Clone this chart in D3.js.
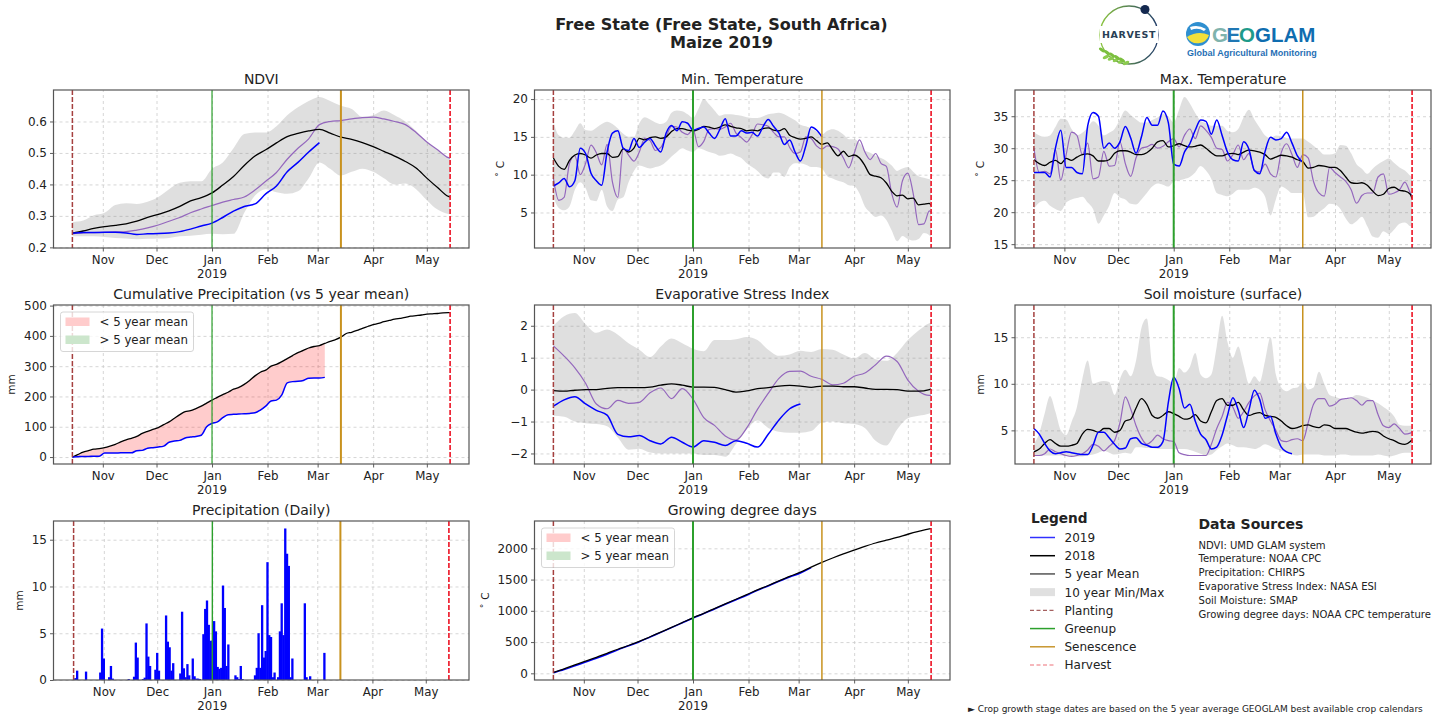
<!DOCTYPE html>
<meta charset="utf-8">
<style>
  body { margin: 0; background: #fff; }
  text { font-family: "DejaVu Sans", sans-serif; fill: #222; }
  .grid line { stroke: #ccc; stroke-width: 0.8; stroke-dasharray: 3 3; }
  .grid path { display: none; }
  .axis path { display: none; }
  .axis line { stroke: #333; stroke-width: 0.8; }
  .axis text { fill: #222; }
</style>

<body>
  <script src="https://d3js.org/d3.v7.min.js"></script>
  <script>

    // crop calendar (days counted from planting)
    var planting = new Date(2018, 9, 15);
    var greenupDay = 78, senescenceDay = 150, harvestDay = 211;
    var monthTicks = [new Date(2018, 10, 1), new Date(2018, 11, 1), new Date(2019, 0, 1), new Date(2019, 1, 1),
      new Date(2019, 2, 1), new Date(2019, 3, 1), new Date(2019, 4, 1)];

    // sample days of the series below
    var days3 = d3.range(0, 211, 3).concat(211);
    var days6 = d3.range(0, 211, 6).concat(211);

    // NDVI (every 6 days)
    var ndviBlue = [.245, .247, .247, .248, .248, .246, .241, .243, .244, .246, .25, .258, .268, .277, .295, .315, .33, .338, .37, .395, .44, .47, .503, .533];
    var ndviPurple = [.243, .246, .247, .248, .249, .25, .255, .262, .271, .283, .295, .31, .322, .333, .344, .352, .36, .382, .41, .438, .48, .515, .545, .59, .6, .603, .608, .612, .614, .608, .6, .59, .565, .535, .51, .485, .483];
    var ndviBlack = [.245, .252, .26, .266, .27, .275, .283, .295, .305, .316, .33, .348, .358, .373, .398, .425, .46, .49, .51, .532, .552, .562, .57, .575, .563, .55, .543, .533, .52, .505, .49, .473, .452, .42, .39, .362, .36];
    var ndviHi = [.28, .285, .302, .31, .335, .34, .338, .345, .36, .385, .405, .41, .41, .45, .47, .515, .56, .565, .565, .585, .62, .645, .665, .678, .665, .65, .64, .615, .62, .635, .62, .6, .57, .535, .51, .486, .483];
    var ndviLo = [.235, .235, .235, .233, .23, .228, .226, .227, .228, .23, .235, .237, .24, .243, .242, .243, .31, .365, .385, .375, .37, .378, .42, .47, .45, .428, .44, .45, .44, .42, .4, .403, .385, .35, .32, .306, .305];

    // Min. temperature (every 3 days)
    var minBlue = [8.5, 8.9, 9.5, 8.4, 9.2, 13.5, 12.8, 10.2, 9.2, 8.6, 13, 15.5, 15.8, 13.5, 13.2, 14.8, 13.6, 14.3, 14.8, 13.8, 13, 15.5, 16.5, 15.8, 17, 16.8, 15.9, 16.1, 16.3, 15.5, 14.8, 16, 17.4, 15.1, 15.1, 15.8, 15.5, 15.6, 15.1, 16.3, 17.3, 16.4, 15.5, 14, 14.6, 13, 11.8, 13.8, 16.3, 15.9, 15];
    var minPurple = [9.5, 6.6, 7, 11.5, 12.5, 10, 11.5, 13.9, 12.9, 11.3, 14, 9, 7, 13.5, 12.6, 11.8, 13, 14.8, 14.5, 13.2, 13.6, 15, 16.4, 16.3, 15.6, 15.3, 16, 13.7, 14.4, 16, 16.1, 16, 16.3, 16.8, 15.5, 14.9, 14.3, 15.3, 16.7, 16.6, 16.4, 15.6, 15, 15, 13.6, 12.8, 13, 15, 14.8, 13.8, 13.4, 13.8, 13.7, 13.4, 12.2, 10.9, 12.8, 14.6, 13, 12, 12.8, 11.5, 11.1, 7.5, 5.7, 9.2, 10.2, 7.5, 3.4, 3.5, 5.2, 5];
    var minBlack = [12.2, 11.1, 10.7, 11.9, 12.6, 12.8, 12.6, 12.2, 12.6, 12.8, 12.8, 12.3, 12.4, 13.4, 13, 13.5, 14.8, 14.6, 14.9, 15, 14.8, 15, 15.7, 16.1, 16.1, 15.9, 15.8, 16, 16.4, 16.3, 16.1, 16.3, 16.6, 16.4, 16.2, 16.1, 15.8, 15.9, 15.8, 16.1, 16.2, 15.9, 15.8, 16.1, 15.2, 14.9, 14.7, 14.8, 15, 14.5, 14, 14.2, 13.3, 12.5, 13.1, 12.4, 12.6, 12.2, 11.2, 10, 9.8, 9.6, 8.9, 7.8, 7.2, 7.3, 6.8, 6.9, 6, 6.1, 6.2, 5.9];
    var minHi = [17, 15.2, 14.9, 14.9, 15.8, 16.8, 15.9, 15.8, 16.2, 16.7, 17, 16.7, 16.1, 15.4, 15, 15, 16.8, 17.6, 17.3, 16.9, 16.7, 17, 18.2, 18.5, 18.4, 18, 17.5, 18.7, 20, 19.3, 18.5, 17.8, 18, 18, 17.9, 17.8, 17.6, 17.5, 17.5, 17.7, 18, 18.1, 18.2, 18, 17.6, 17.2, 16.6, 16.4, 16.1, 15.7, 15.3, 15.8, 16, 15.8, 15.3, 14.7, 14.7, 14.2, 13.2, 12.9, 12.5, 12.2, 11.8, 11.2, 10.5, 10.8, 11, 10.4, 9.8, 9.6, 9.4, 9.3];
    var minLo = [7, 5.6, 5.3, 5.8, 8, 9, 8.2, 6.6, 6.5, 8, 5.8, 5.2, 6.7, 7, 9, 10.5, 11.2, 11, 10.8, 11, 11.2, 11.7, 12.4, 13, 13.5, 13.2, 13, 13.5, 13.3, 13, 12.8, 12.5, 12.6, 12.8, 12.5, 12.2, 11.5, 11, 10.5, 9.8, 9.5, 10.3, 10.3, 9.7, 11, 11.5, 11.5, 11.3, 11, 11, 10.8, 9.8, 9.5, 9.2, 9, 8.6, 8.5, 7.5, 5.8, 5, 4.4, 4.6, 4, 2.6, 1.2, 1.9, 1.5, 1.3, 1.5, 2.3, 2, 1.7];

    // Max. temperature (every 3 days)
    var maxBlue = [26.2, 26.2, 26.2, 25.5, 30, 32.8, 27, 27, 26.2, 26, 33.5, 35.6, 35, 30, 30.8, 30, 31, 33.4, 31.6, 29.2, 31.8, 34.8, 33.6, 33.6, 35.8, 34, 27.5, 27.2, 29.4, 30.7, 32.8, 34.4, 34.2, 32.2, 34.4, 32, 29.4, 28.2, 28, 31, 29.8, 26.5, 26, 29.5, 31.7, 31.3, 31.5, 32.5, 30.8, 28.8, 27.8];
    var maxPurple = [30, 26.2, 26.4, 26, 29.8, 25, 29, 32.5, 32, 29, 30.8, 25.2, 25.5, 29.5, 27.2, 27.3, 31, 27.6, 25.6, 28.5, 30, 30.2, 30.6, 30, 30.3, 31, 31.5, 30.2, 32, 33, 31.5, 33.5, 32.8, 31.7, 30, 29.8, 28, 29, 30.5, 28.2, 29.2, 26.5, 26.3, 27.5, 26, 25.5, 29.3, 30.7, 29, 27, 29, 28.5, 24.8, 23, 22.5, 27, 26.2, 25.5, 24.8, 23.5, 21.4, 22.6, 23, 23, 25.5, 26, 22.8, 23, 23.5, 24.7, 23, 22.5];
    var maxBlack = [28.2, 27.6, 27.3, 27.8, 28.1, 27.6, 28.4, 28.1, 28.6, 29, 29.1, 28.8, 28, 28, 28.2, 29.2, 29.6, 29.6, 29.4, 29, 29, 29.3, 30, 31, 31.2, 30.2, 30.4, 30.7, 30.4, 30.2, 30.3, 30.5, 30, 29.3, 28.8, 28.8, 29.1, 29.2, 29, 29.4, 29.7, 29.6, 29.4, 29, 28.3, 28.6, 28.9, 28.8, 28.6, 28.2, 27.9, 26.9, 27, 27.3, 27.2, 27, 27, 26.5, 25.5, 24.6, 24.5, 24.6, 24.2, 23.3, 22.6, 22.8, 23.7, 23.9, 23.4, 23.3, 22.8, 22.1];
    var maxHi = [32.5, 32, 31.8, 32, 33.3, 34.6, 34.5, 33, 32, 32.4, 33.2, 34.2, 33.5, 32, 32.4, 33, 34.5, 35.9, 35.2, 34.5, 34, 34, 34.4, 34.8, 35.4, 35, 34, 36, 38, 37, 35.5, 34.3, 33.9, 33.5, 33.5, 33.5, 32.7, 32.5, 33, 34.8, 36, 34.5, 33.2, 32, 31.6, 32, 31.9, 31.6, 31.5, 31.5, 31.5, 31, 30.4, 29.7, 29, 29, 29.2, 30.5, 30.4, 29.2, 27.5, 26.8, 26, 26.8, 27.5, 28, 28.4, 27.7, 27, 26.5, 25.7, 25.5];
    var maxLo = [20.5, 21.5, 21.8, 21, 20.5, 20.2, 21.5, 22, 22.2, 22.4, 21.5, 20.5, 18.2, 19.5, 21, 23, 22.3, 22, 21.3, 21.2, 22, 23, 24, 24.5, 24.3, 24, 24.8, 25, 25.2, 25.5, 26.2, 27.2, 26.5, 25.2, 23, 22.7, 22.5, 22.9, 23.5, 23.5, 23.5, 23.8, 23.5, 22.4, 19.5, 22, 24, 23.6, 23, 23, 23, 19.2, 19.3, 20, 20.6, 21.3, 21.2, 20.5, 19, 18.1, 18.6, 19.3, 17.8, 16.2, 16, 17, 16.6, 17.3, 18.2, 18.4, 17.8, 17.7];

    // Cumulative precipitation (every 3 days)
    var cumBlue = [0, 1, 2, 2, 3, 3, 13, 13, 13, 14, 14, 14, 21, 22, 29, 31, 33, 36, 49, 53, 55, 63, 66, 68, 72, 100, 111, 116, 130, 140, 141, 142, 143, 144, 146, 155, 168, 185, 188, 205, 245, 249, 250, 253, 260, 261, 261, 263];
    var cumBlack = [0, 8, 16, 21, 26, 28, 31, 36, 42, 50, 57, 62, 68, 78, 85, 91, 97, 107, 116, 128, 140, 150, 153, 160, 168, 178, 188, 197, 206, 214, 224, 230, 240, 253, 268, 280, 287, 300, 306, 315, 325, 335, 345, 352, 360, 365, 368, 375, 382, 388, 396, 408, 412, 418, 425, 431, 437, 441, 447, 451, 455, 458, 461, 465, 467, 469, 472, 473, 474, 476, 477, 477];

    // Evaporative stress index (every 6 days)
    var esiBlue = [-.52, -.32, -.22, -.45, -.65, -.8, -1.4, -1.48, -1.44, -1.6, -1.7, -1.49, -1.65, -1.8, -1.6, -1.65, -1.75, -1.6, -1.68, -1.8, -1.4, -.95, -.6, -.45];
    var esiPurple = [1.37, 1.05, .68, .2, -.45, -.6, -.34, -.43, -.4, -.1, .05, -.28, .03, -.3, -.88, -1.12, -1.45, -1.58, -1.2, -.62, -.12, .35, .57, .58, .42, .32, .15, .2, .42, .52, .78, 1.05, .88, .3, -.05, -.18, -.18];
    var esiBlack = [-.03, -.05, -.02, 0, 0, .04, .06, .06, .06, .08, .14, .18, .14, .08, .08, .07, 0, -.08, -.04, .03, .06, .11, .13, .11, .07, .11, .11, .09, .09, .05, .01, .01, 0, -.05, -.05, 0, .02];
    var esiHi = [2, 2.3, 2.4, 2.05, 1.78, 1.88, 1.72, 1.45, 1.25, 1.02, 1.35, 1.6, 1.45, 1.28, 1.2, 1.55, 1.55, 1.58, 1.65, 1.55, 1.25, 1.06, 1.1, 1.22, 1.18, 1.27, 1.25, 1.1, .98, 1.15, .95, .9, 1.15, 1.55, 1.85, 2.08, 2.1];
    var esiLo = [-.82, -.85, -1, -1.05, -1.08, -1.15, -1.5, -1.88, -1.85, -1.97, -2, -2, -2, -2, -2.05, -2.05, -2.1, -1.7, -1.25, -.97, -1.2, -1.32, -1.35, -1.35, -1.3, -1.03, -1, -1.05, -1.08, -1.2, -1.6, -1.75, -1.25, -.9, -.82, -.75, -.72];

    // Soil moisture (every 3 days)
    var soilBlue = [5.2, 4.6, 3.6, 2.8, 2.5, 2.6, 2.7, 2.6, 2.5, 2.4, 2.4, 3.4, 4.8, 4.8, 4.2, 3.5, 3, 3.1, 4.1, 4.2, 3.6, 3.4, 3.2, 3.2, 3.8, 8, 10.7, 9.5, 7.4, 7.8, 6, 4.6, 4, 3, 3.2, 4.5, 6.6, 8.5, 7.2, 5.3, 7.2, 9.3, 8.3, 6.3, 6.5, 4.6, 3.2, 2.7, 2.5];
    var soilPurple = [2.3, 2.3, 2.5, 3, 2.7, 2.5, 2.3, 2.2, 2.3, 2.5, 2.9, 3.5, 3.3, 2.8, 3.3, 3.9, 5.8, 8.6, 7.3, 5.5, 4.2, 3.5, 3.9, 4.5, 4.1, 3.9, 3.8, 2.6, 2.4, 2.3, 2.3, 2.3, 2.3, 3.5, 5.2, 6.5, 8, 7.5, 6.3, 7, 8, 8.7, 9, 7.2, 6, 5, 3.9, 3.8, 4, 4.1, 3.9, 5.8, 7.8, 8.4, 8.4, 7.6, 7.8, 8.3, 8.4, 8.5, 8.2, 7.7, 8.2, 8.2, 6.7, 5.5, 5.3, 5.7, 5.2, 4.6, 4.7, 4.9];
    var soilBlack = [2.7, 3, 3.6, 4, 3.6, 3.3, 3.3, 3.4, 3.6, 4.6, 5.1, 5, 4.8, 5.2, 5.2, 4.8, 5, 6, 6.2, 7.4, 8.4, 7.8, 6.6, 6.3, 6.6, 7, 6.8, 6.5, 6.2, 6.3, 6.7, 6, 5.8, 7, 8.2, 8.4, 7.7, 7.7, 8, 7.2, 6.6, 6.8, 6.9, 6.6, 6.5, 6.4, 6, 5.5, 5.2, 5.3, 5.5, 5.6, 5.4, 5.3, 5.6, 5.5, 5.2, 5.2, 5.2, 5, 4.8, 4.7, 4.8, 4.9, 4.8, 4.4, 4.1, 3.9, 3.6, 3.5, 3.8, 4];
    var soilHi = [3.5, 4.7, 6.8, 8.7, 7, 5, 4.5, 5.9, 7.5, 10.5, 12.5, 10, 10.2, 10.3, 10.2, 8.8, 10.5, 11.5, 10.8, 12.5, 16, 17, 12, 10.8, 10.7, 10.4, 10, 11.7, 11.2, 11.8, 13.3, 11, 10.6, 11, 14, 17.3, 14.5, 12.8, 14, 12, 10, 10.8, 10.2, 12.5, 15, 11, 9.6, 9.2, 9.5, 9.6, 10.2, 9.4, 9.6, 11.3, 10, 8.8, 8.6, 8.4, 8.3, 8.5, 8.8, 8.7, 8.5, 8.2, 7.9, 7.5, 7.1, 6.5, 5.6, 5.5, 5.5, 5.5];
    var soilLo = [2.3, 2.3, 2.3, 2.3, 2.3, 2.3, 2.25, 2.2, 2.2, 2.2, 2.3, 2.4, 2.6, 2.8, 2.6, 2.4, 2.5, 2.6, 2.5, 3.2, 3.2, 3.1, 3.1, 3, 3, 3, 3, 3, 3, 2.9, 2.7, 2.5, 2.3, 2.4, 2.9, 3.3, 3.6, 3.4, 3.2, 3.2, 3.1, 3, 3.2, 3.5, 3.3, 3, 2.8, 2.6, 2.4, 2.3, 2.4, 2.4, 2.4, 2.4, 2.3, 2.3, 2.3, 2.4, 2.4, 2.3, 2.3, 2.3, 2.3, 2.3, 2.4, 2.3, 2.2, 2.3, 2.5, 2.6, 2.6, 2.6];

    // Daily precipitation
    var rainDays = [1, 2, 7, 15, 16, 17, 20, 21, 22, 31, 34, 35, 36, 39, 40, 41, 42, 43, 46, 47, 48, 52, 53, 54, 55, 56, 60, 61, 62, 63, 64, 65, 67, 68, 69, 70, 71, 73, 74, 75, 76, 77, 78, 79, 80, 81, 82, 83, 84, 85, 86, 87, 91, 92, 93, 94, 95, 102, 103, 104, 105, 106, 107, 108, 109, 110, 111, 112, 113, 115, 116, 117, 118, 119, 120, 121, 122, 123, 130, 131, 133, 141];
    var rainValues = [.2, 1, .9, .8, 5.5, 2.3, .3, 1.5, .15, .1, .35, 4, 2.4, .1, .25, 6.05, 2.5, 1.5, 1.1, 2.9, 1, 6.9, 4.1, 3.5, 1, 1.8, .7, 7.3, 1.25, .3, 1.7, .5, 2.3, .4, .15, .15, .1, 4.9, 7.6, 8.5, 5.9, 4.2, 4.2, 6.3, 5.2, 1.4, 1.2, 1.3, 10.1, 7.7, 1.5, 3.8, .5, .3, .1, 1.5, .1, .5, 1.3, 5, 1.3, 8, 2.4, 3.1, 12.6, 4.8, 4.6, .3, .8, .3, 5.2, 8.2, 4.8, 16.2, 13.5, 12.2, .3, 2.3, 8.2, .3, .4, 2.9];

    // Growing degree days (every 6 days)
    var gddBlue = [10, 60, 120, 180, 240, 305, 375, 440, 505, 580, 655, 730, 808, 885, 955, 1030, 1105, 1178, 1250, 1328, 1398, 1472, 1540, 1605, 1690];
    var gddBlack = [15, 70, 135, 195, 255, 320, 385, 445, 510, 585, 660, 735, 812, 888, 960, 1035, 1110, 1185, 1260, 1335, 1405, 1480, 1550, 1620, 1700, 1775, 1845, 1910, 1970, 2030, 2085, 2130, 2175, 2225, 2270, 2310, 2315];

    // text blocks
    var legendLabels = ["2019", "2018", "5 year Mean", "10 year Min/Max", "Planting", "Greenup", "Senescence", "Harvest"];
    var sourceLines = ["NDVI: UMD GLAM system", "Temperature: NOAA CPC", "Precipitation: CHIRPS", "Evaporative Stress Index: NASA ESI",
      "Soil Moisture: SMAP", "Growing degree days: NOAA CPC temperature"];

    var colours = { blue: "#0000ff", black: "#000", purple: "#9467bd", band: "#808080", planting: "#a5403f", greenup: "#2ca02c", senescence: "#c8921e", harvest: "#ee2030" };

    var svg = d3.select("body").append("svg").attr("width", 1444).attr("height", 715);

    function dayToDate(d) { return new Date(+planting + d * 864e5); }
    function fmtMinus(f) { return function (v) { return f(v).replace("-", "\u2212"); }; }

    // set up one set of axes, returns the scales and the group
    function makePanel(p) {
      var width = p.box[1] - p.box[0], height = p.box[3] - p.box[2];
      var pad = p.pad || 10.55;
      var x = d3.scaleTime().domain([dayToDate(-pad), dayToDate(harvestDay + pad)]).range([0, width]);
      var y = d3.scaleLinear().domain(p.domain).range([height, 0]);
      var g = svg.append("g").attr("transform", "translate(" + p.box[0] + "," + p.box[2] + ")");

      // grid
      g.append("g").attr("class", "grid").attr("transform", "translate(0," + height + ")")
        .call(d3.axisBottom(x).tickValues(monthTicks).tickSize(-height).tickFormat(""));
      g.append("g").attr("class", "grid")
        .call(d3.axisLeft(y).tickValues(p.ticks).tickSize(-width).tickFormat(""));

      // axes
      var bottom = g.append("g").attr("class", "axis").attr("transform", "translate(0," + height + ")")
        .call(d3.axisBottom(x).tickValues(monthTicks).tickSize(3.5).tickPadding(4).tickFormat(d3.timeFormat("%b")));
      bottom.selectAll("text").attr("font-size", 11.8);
      g.append("g").attr("class", "axis")
        .call(d3.axisLeft(y).tickValues(p.ticks).tickSize(3.5).tickPadding(3).tickFormat(fmtMinus(p.format)))
        .selectAll("text").attr("font-size", 12);

      g.append("text").attr("x", x(monthTicks[2])).attr("y", height + 30).attr("text-anchor", "middle")
        .attr("font-size", 11.8).text("2019");
      g.append("text").attr("x", width / 2).attr("y", -6).attr("text-anchor", "middle")
        .attr("font-size", 14).text(p.title);

      if (p.ylabel) {
        g.append("text").attr("transform", "translate(" + p.ylabelX + "," + (height / 2) + ") rotate(-90)")
          .attr("text-anchor", "middle").attr("font-size", 10.5).text(p.ylabel);
      }

      return { g: g, x: x, y: y, width: width, height: height };
    }

    function drawLine(a, days, values, colour, lw) {
      var line = d3.line().x(function (v, i) { return a.x(dayToDate(days[i])); }).y(function (v) { return a.y(v); })
        .curve(d3.curveMonotoneX);
      a.g.append("path").attr("d", line(values)).attr("fill", "none").attr("stroke", colour).attr("stroke-width", lw);
    }

    function drawBand(a, days, hi, lo, colour, opacity) {
      var area = d3.area().x(function (v, i) { return a.x(dayToDate(days[i])); })
        .y0(function (v, i) { return a.y(lo[i]); }).y1(function (v) { return a.y(v); })
        .curve(d3.curveMonotoneX);
      a.g.append("path").attr("d", area(hi)).attr("fill", colour).attr("fill-opacity", opacity);
    }

    function drawStages(a, p) {
      var stages = [
        { day: 0, colour: colours.planting, lw: 1.5, dash: "5 2" },
        { day: greenupDay, colour: colours.greenup, lw: p.greenLw, dash: null },
        { day: senescenceDay, colour: colours.senescence, lw: p.senLw, dash: null },
        { day: harvestDay, colour: colours.harvest, lw: 1.7, dash: "5 2" }
      ];
      a.g.selectAll(".stage").data(stages).enter().append("line").attr("class", "stage")
        .attr("x1", function (s) { return a.x(dayToDate(s.day)); })
        .attr("x2", function (s) { return a.x(dayToDate(s.day)); })
        .attr("y1", 0).attr("y2", a.height)
        .attr("stroke", function (s) { return s.colour; })
        .attr("stroke-width", function (s) { return s.lw; })
        .attr("stroke-dasharray", function (s) { return s.dash; });
    }

    function drawFrame(a) {
      a.g.append("rect").attr("width", a.width).attr("height", a.height)
        .attr("fill", "none").attr("stroke", "#555").attr("stroke-width", 1.2);
    }

    function drawMeanLegend(a) {
      var lg = a.g.append("g").attr("transform", "translate(7,7)");
      lg.append("rect").attr("width", 133).attr("height", 39.5).attr("rx", 2.5)
        .attr("fill", "#fff").attr("fill-opacity", 0.8).attr("stroke", "#ccc").attr("stroke-width", 0.8);
      [["< 5 year mean", "#ffcccc"], ["> 5 year mean", "#cce6cc"]].forEach(function (r, i) {
        lg.append("rect").attr("x", 5).attr("y", 5.5 + i * 18).attr("width", 24).attr("height", 8.5).attr("fill", r[1]);
        lg.append("text").attr("x", 39).attr("y", 14 + i * 18).attr("font-size", 11.8).text(r[0]);
      });
    }

    var col1 = [53.5, 469], col2 = [534.5, 950], col3 = [1015, 1431];
    var row1 = [90, 248], row2 = [305, 464], row3 = [521, 680];
    var f1 = d3.format(".1f"), f0 = d3.format("d");

    // the five band panels
    [
      { title: "NDVI", box: col1.concat(row1), domain: [.198, .7], ticks: [.2, .3, .4, .5, .6], format: f1, days: days6, blue: ndviBlue, purple: ndviPurple, black: ndviBlack, hi: ndviHi, lo: ndviLo, greenLw: 1.2, senLw: 2 },
      { title: "Min. Temperature", box: col2.concat(row1), domain: [.3, 21.2], ticks: [5, 10, 15, 20], format: f0, days: days3, blue: minBlue, purple: minPurple, black: minBlack, hi: minHi, lo: minLo, greenLw: 2, senLw: 1.5, ylabel: "˚ C", ylabelX: -31 },
      { title: "Max. Temperature", box: col3.concat(row1), domain: [14.4, 39.1], ticks: [15, 20, 25, 30, 35], format: f0, days: days3, blue: maxBlue, purple: maxPurple, black: maxBlack, hi: maxHi, lo: maxLo, greenLw: 2, senLw: 1.5, ylabel: "˚ C", ylabelX: -31 },
      { title: "Evaporative Stress Index", box: col2.concat(row2), domain: [-2.33, 2.65], ticks: [-2, -1, 0, 1, 2], format: f0, days: days6, blue: esiBlue, purple: esiPurple, black: esiBlack, hi: esiHi, lo: esiLo, greenLw: 2, senLw: 1.5 },
      { title: "Soil moisture (surface)", box: col3.concat(row2), domain: [1.39, 18.46], ticks: [5, 10, 15], format: f0, days: days3, blue: soilBlue, purple: soilPurple, black: soilBlack, hi: soilHi, lo: soilLo, greenLw: 2, senLw: 1.5, ylabel: "mm", ylabelX: -31 }
    ].forEach(function (p) {
      var a = makePanel(p);
      drawBand(a, p.days, p.hi, p.lo, colours.band, 0.25);
      drawLine(a, p.days, p.purple, colours.purple, 1.2);
      drawLine(a, p.days, p.black, colours.black, 1.3);
      drawLine(a, p.days, p.blue, colours.blue, 1.5);
      drawStages(a, p);
      drawFrame(a);
    });

    // cumulative precipitation
    var cum = { title: "Cumulative Precipitation (vs 5 year mean)", box: col1.concat(row2), domain: [-23, 502], ticks: [0, 100, 200, 300, 400, 500], format: f0, greenLw: 1.2, senLw: 2, ylabel: "mm", ylabelX: -38.5 };
    var cumAxes = makePanel(cum);
    drawBand(cumAxes, days3, cumBlack.slice(0, cumBlue.length), cumBlue, "#ff0000", 0.2);
    drawLine(cumAxes, days3, cumBlack, colours.black, 1.3);
    drawLine(cumAxes, days3, cumBlue, colours.blue, 1.5);
    drawStages(cumAxes, cum);
    drawMeanLegend(cumAxes);
    drawFrame(cumAxes);

    // daily precipitation, bars a bit wider than a day so neighbours merge
    var daily = { title: "Precipitation (Daily)", box: col1.concat(row3), domain: [0, 17], ticks: [0, 5, 10, 15], format: f0, greenLw: 1.4, senLw: 2, ylabel: "mm", ylabelX: -30.5, pad: 11.3 };
    var dailyAxes = makePanel(daily);
    dailyAxes.g.selectAll(".bar").data(rainValues).enter().append("rect").attr("class", "bar")
      .attr("x", function (v, i) { return dailyAxes.x(dayToDate(rainDays[i] - 0.65)); })
      .attr("width", function (v, i) { return dailyAxes.x(dayToDate(rainDays[i] + 0.65)) - dailyAxes.x(dayToDate(rainDays[i] - 0.65)); })
      .attr("y", function (v) { return dailyAxes.y(v); })
      .attr("height", function (v) { return dailyAxes.height - dailyAxes.y(v); })
      .attr("fill", colours.blue);
    drawStages(dailyAxes, daily);
    drawFrame(dailyAxes);

    // growing degree days
    var gdd = { title: "Growing degree days", box: col2.concat(row3), domain: [-107, 2437], ticks: [0, 500, 1000, 1500, 2000], format: f0, greenLw: 2, senLw: 1.5, ylabel: "˚ C", ylabelX: -46 };
    var gddAxes = makePanel(gdd);
    drawLine(gddAxes, days6, gddBlue, colours.blue, 1.5);
    drawLine(gddAxes, days6, gddBlack, colours.black, 1.3);
    drawStages(gddAxes, gdd);
    drawMeanLegend(gddAxes);
    drawFrame(gddAxes);

    // figure titles
    svg.append("text").attr("x", 721.5).attr("y", 30).attr("text-anchor", "middle")
      .attr("font-size", 16.1).attr("font-weight", "bold").text("Free State (Free State, South Africa)");
    svg.append("text").attr("x", 721.5).attr("y", 47.5).attr("text-anchor", "middle")
      .attr("font-size", 16.1).attr("font-weight", "bold").text("Maize 2019");

    // main legend
    svg.append("text").attr("x", 1031).attr("y", 523).attr("font-size", 13.7).attr("font-weight", "bold").text("Legend");
    var legendKeys = [
      { colour: "#3030ff", lw: 1.5 }, { colour: "#000", lw: 1.5 }, { colour: "#555", lw: 1.5 }, { colour: "#e0e0e0", lw: 8 },
      { colour: "#a5605f", lw: 1.2, dash: "4 2.5" }, { colour: "#2ca02c", lw: 1.5 }, { colour: "#c8962e", lw: 1.5 }, { colour: "#ee7078", lw: 1.2, dash: "4 2.5" }
    ];
    var legendRow = d3.scalePoint().domain(legendLabels).range([537.5, 665]);
    legendLabels.forEach(function (label, i) {
      svg.append("line").attr("x1", 1030).attr("x2", 1055).attr("y1", legendRow(label)).attr("y2", legendRow(label))
        .attr("stroke", legendKeys[i].colour).attr("stroke-width", legendKeys[i].lw)
        .attr("stroke-dasharray", legendKeys[i].dash || null);
      svg.append("text").attr("x", 1064.5).attr("y", legendRow(label) + 4.4).attr("font-size", 12).text(label);
    });

    // data sources
    svg.append("text").attr("x", 1198.5).attr("y", 529).attr("font-size", 14).attr("font-weight", "bold").text("Data Sources");
    var sourceRow = d3.scalePoint().domain(sourceLines).range([548.5, 617.5]);
    sourceLines.forEach(function (line) {
      svg.append("text").attr("x", 1198.5).attr("y", sourceRow(line)).attr("font-size", 10.05).text(line);
    });

    svg.append("text").attr("x", 968).attr("y", 711.5).attr("font-size", 9)
      .text("\u25BA Crop growth stage dates are based on the 5 year average GEOGLAM best available crop calendars");

    // logos, HARVEST
    var harvest = svg.append("g");
    var grad = svg.append("defs").append("linearGradient").attr("id", "ring");
    grad.append("stop").attr("offset", "0%").attr("stop-color", "#8cc63f");
    grad.append("stop").attr("offset", "100%").attr("stop-color", "#1f3a68");
    harvest.append("circle").attr("cx", 1129).attr("cy", 35).attr("r", 29).attr("fill", "none").attr("stroke", "url(#ring)").attr("stroke-width", 1.3);
    harvest.append("circle").attr("cx", 1145).attr("cy", 9.5).attr("r", 4.5).attr("fill", "#14284f");
    harvest.append("rect").attr("x", 1100).attr("y", 26).attr("width", 58).attr("height", 17).attr("fill", "#fff");
    harvest.append("text").attr("x", 1129).attr("y", 38).attr("text-anchor", "middle").attr("font-size", 9.5).attr("letter-spacing", 0.6).attr("font-weight", "bold").style("fill", "#2a3f55").text("HARVEST");
    d3.range(5).forEach(function (i) {
      harvest.append("ellipse").attr("cx", 1102 + i * 5).attr("cy", 50 + i * 2.5).attr("rx", 3.5).attr("ry", 1.6).attr("transform", "rotate(35 " + (1102 + i * 5) + " " + (50 + i * 2.5) + ")").attr("fill", "#7cbf3f");
      harvest.append("ellipse").attr("cx", 1106 + i * 5).attr("cy", 57 + i * 1.5).attr("rx", 3.5).attr("ry", 1.6).attr("transform", "rotate(-25 " + (1106 + i * 5) + " " + (57 + i * 1.5) + ")").attr("fill", "#8ccb4f");
    });

    // logos, GEOGLAM
    var geo = svg.append("g");
    geo.append("circle").attr("cx", 1198).attr("cy", 34).attr("r", 12).attr("fill", "#2f8fd0");
    geo.append("path").attr("d", "M1187 37 Q1198 30 1209 35 A12 12 0 0 1 1187 37 Z").attr("fill", "#f2e03a");
    geo.append("path").attr("d", "M1190 27 Q1198 24 1206 29 L1204 31 Q1198 27 1191 30 Z").attr("fill", "#fff");
    var geoLetters = [["G", "#7fb3ad", 1212], ["E", "#1f77b4", 1226.5], ["O", "#1d9a8a", 1239], ["GLAM", "#0f6db0", 1255]];
    geoLetters.forEach(function (l) {
      geo.append("text").attr("x", l[2]).attr("y", 41.5).attr("font-size", 20.5).attr("font-weight", "bold")
        .style("font-family", "'Liberation Sans Narrow','Liberation Sans',sans-serif").style("fill", l[1]).text(l[0]);
    });
    geo.append("text").attr("x", 1187).attr("y", 56).attr("font-size", 9).attr("font-weight", "bold")
      .style("font-family", "'Liberation Sans',sans-serif").style("fill", "#1f6fb5").text("Global Agricultural Monitoring");

  </script>
</body>
